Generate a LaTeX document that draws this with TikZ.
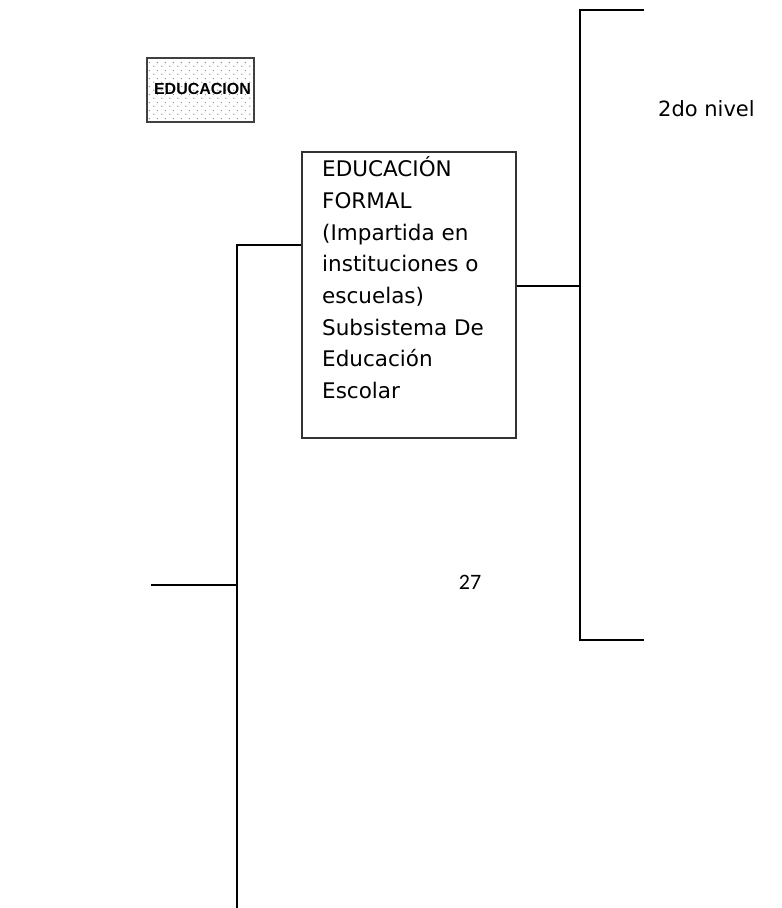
\documentclass[tikz,border=0pt]{standalone}
\usepackage{fontspec}
\setmainfont{DejaVu Sans}
\newfontfamily\pagefont{Carlito}
\newfontfamily\titlefont{Liberation Sans}
\usetikzlibrary{calc}
\usetikzlibrary{patterns,positioning}

% sparse staggered dots for the title box
\pgfdeclarepatternformonly{sparsedots}{\pgfqpoint{0pt}{0pt}}{\pgfqpoint{8pt}{8pt}}{\pgfqpoint{8pt}{8pt}}{%
  \pgfpathcircle{\pgfqpoint{2pt}{2pt}}{0.8pt}%
  \pgfpathcircle{\pgfqpoint{6pt}{6pt}}{0.8pt}%
  \pgfusepath{fill}}

\begin{document}
\begin{tikzpicture}[x=1pt, y=-1pt,
    link/.style={line width=2.6pt},
    titlebox/.style={draw=black!75, line width=2pt, pattern=sparsedots, pattern color=black!45,
      minimum width=107pt, minimum height=64pt, inner sep=0pt},
    formalbox/.style={draw=black!80, line width=1.8pt, minimum width=214pt, minimum height=286pt, inner sep=0pt},
    boxline/.style={anchor=base west, inner sep=0pt, font=\fontsize{21.5}{26}\selectfont}]
  \useasboundingbox (0,0) rectangle (782,908);

  \node[titlebox] (title) at (200.5,90) {};
  \node[font=\titlefont\bfseries\fontsize{16}{19}\selectfont] (titletext) at ($(title.center) + (2,-1)$) {EDUCACION};

  \node[formalbox] (formal) at (409,295) {};
  \coordinate (L) at (322,176.7);
  \def\F{EDUCACIÓN, FORMAL, {(Impartida en}, instituciones o, {escuelas)}, Subsistema De, Educación, Escolar}
  \foreach \t[count=\i from 1] in \F
  {
      \node[boxline] (line\i) at ($(L) + (0,{31.7*(\i-1)})$) {\t};
  }

  % left branch
  \coordinate (lefttop) at (237,245);
  \coordinate (leftbottom) at (237,908);
  \coordinate (leftstub) at (151,585);
  \coordinate (leftjoin) at (237,585);
  \draw[link] (formal.west |- lefttop) -- (lefttop) -- (leftbottom);
  \draw[link] (leftstub) -- (leftjoin);

  % right bracket
  \coordinate (rightjoin) at (580,286);
  \coordinate (righttop) at (580,10);
  \coordinate (rightbottom) at (580,640);
  \coordinate (topend) at (644,10);
  \coordinate (bottomend) at (644,640);
  \draw[link] (formal.east |- rightjoin) -- (rightjoin);
  \draw[link] (topend) -- (righttop) -- (rightbottom) -- (bottomend);

  \node[font=\fontsize{21}{26}\selectfont, anchor=base west, inner sep=0pt] (nivel) at (658,116) {2do nivel};
  \node[font=\pagefont\fontsize{22}{26}\selectfont] (page) at (470,582) {27};
\end{tikzpicture}
\end{document}
